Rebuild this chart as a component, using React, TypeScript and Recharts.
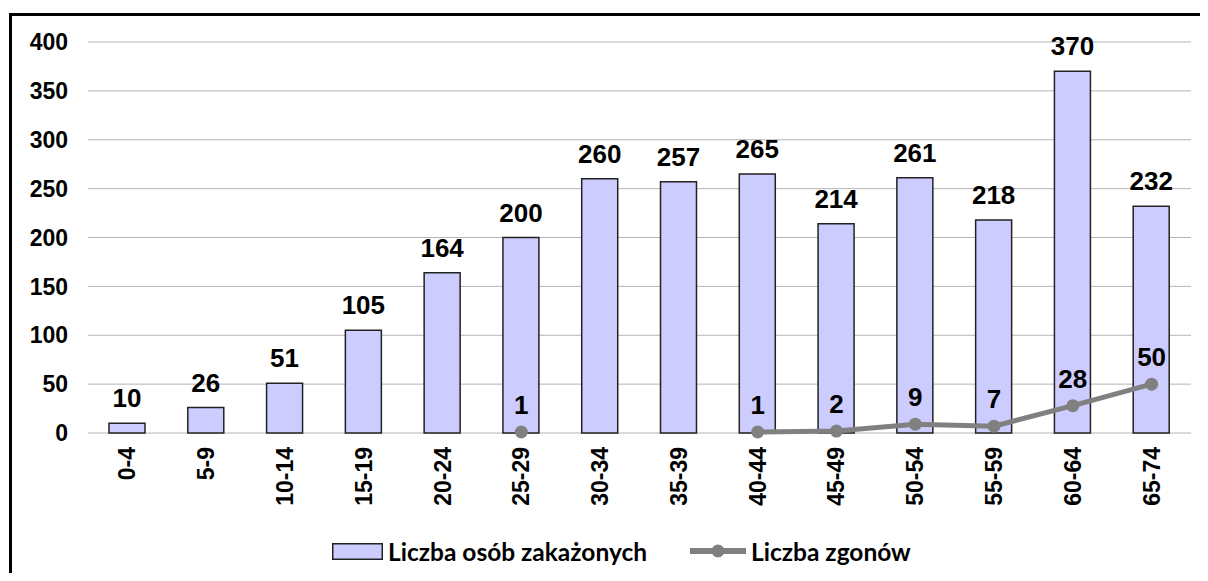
import React from 'react';
import {
  ComposedChart,
  Bar,
  Line,
  XAxis,
  YAxis,
  CartesianGrid,
  Legend,
  LabelList,
} from 'recharts';

const categories = ['0-4', '5-9', '10-14', '15-19', '20-24', '25-29', '30-34', '35-39', '40-44', '45-49', '50-54', '55-59', '60-64', '65-74'];
const infected = [10, 26, 51, 105, 164, 200, 260, 257, 265, 214, 261, 218, 370, 232];
const deaths: (number | null)[] = [null, null, null, null, null, 1, null, null, 1, 2, 9, 7, 28, 50];
const yTicks = [0, 50, 100, 150, 200, 250, 300, 350, 400];
const boundaryTicks = [0, 1, 2, 3, 4, 5, 6, 7, 8, 9, 10, 11, 12, 13, 14];

const data = categories.map((cat, i) => ({ cat, infected: infected[i], deaths: deaths[i] }));

const FONT = '"Liberation Sans", Arial, sans-serif';

const CatTick = (props: any) => {
  const { x, y, payload } = props;
  return (
    <text
      x={x}
      y={y}
      transform={`rotate(-90, ${x}, ${y})`}
      textAnchor="end"
      dominantBaseline="central"
      fontFamily={FONT}
      fontWeight={700}
      fontSize={23}
      fill="#000"
    >
      {payload.value}
    </text>
  );
};

const LineLabel = (props: any) => {
  const { x, y, value } = props;
  if (value === null || value === undefined || x == null || y == null) return null;
  return (
    <text x={x} y={y - 18} textAnchor="middle" fontFamily={FONT} fontWeight={700} fontSize={26} fill="#000">
      {value}
    </text>
  );
};

const LegendContent = () => (
  <div
    style={{
      display: 'flex',
      alignItems: 'center',
      height: 30,
      fontFamily: 'Lato, "Open Sans", sans-serif',
      fontWeight: 700,
      fontSize: 24.5,
      color: '#000',
      whiteSpace: 'nowrap',
    }}
  >
    <svg width={51} height={17} style={{ display: 'block' }}>
      <rect x={0.75} y={0.75} width={49.5} height={15.5} fill="#CCCCFF" stroke="#222" strokeWidth={1.5} />
    </svg>
    <span style={{ marginLeft: 5 }}>Liczba osób zakażonych</span>
    <svg width={56} height={14} style={{ display: 'block', marginLeft: 43 }}>
      <line x1={0} y1={7} x2={56} y2={7} stroke="#808080" strokeWidth={6} strokeLinecap="round" />
      <circle cx={28} cy={7} r={6.5} fill="#808080" />
    </svg>
    <span style={{ marginLeft: 5 }}>Liczba zgonów</span>
  </div>
);

export default function App() {
  return (
    <div style={{ position: 'relative', width: 1208, height: 581, margin: -8, background: '#fff' }}>
      <div
        style={{
          position: 'absolute',
          left: 9,
          top: 13,
          width: 1199,
          height: 568,
          borderTop: '3px solid #000',
          borderLeft: '3px solid #000',
          boxSizing: 'border-box',
        }}
      />
      <div style={{ position: 'absolute', left: 0, top: 0 }}>
        <ComposedChart
          width={1208}
          height={581}
          data={data}
          margin={{ top: 42, right: 17, bottom: 15, left: 0 }}
        >
          <CartesianGrid xAxisId="cat" vertical={false} stroke="#b4b4b4" strokeWidth={1} />
          <XAxis
            xAxisId="ticks"
            type="number"
            domain={[0, 14]}
            ticks={boundaryTicks}
            tick={false}
            tickSize={8}
            tickLine={{ stroke: '#444', strokeWidth: 1.5 }}
            axisLine={{ stroke: '#444', strokeWidth: 1.5 }}
            height={0}
            allowDataOverflow
          />
          <XAxis
            xAxisId="cat"
            dataKey="cat"
            interval={0}
            axisLine={false}
            tickLine={false}
            tickSize={0}
            tickMargin={14}
            tick={<CatTick />}
            height={103}
          />
          <YAxis
            domain={[0, 400]}
            ticks={yTicks}
            width={88}
            axisLine={false}
            tickLine={false}
            tickMargin={14}
            tick={{ fontFamily: FONT, fontWeight: 700, fontSize: 23, fill: '#000' }}
          />
          <Legend verticalAlign="bottom" content={<LegendContent />} wrapperStyle={{ left: 332, width: 700 }} />
          <Bar
            xAxisId="cat"
            dataKey="infected"
            barSize={36}
            fill="#CCCCFF"
            stroke="#222"
            strokeWidth={1.5}
            isAnimationActive={false}
          >
            <LabelList
              dataKey="infected"
              position="top"
              offset={16}
              style={{ fontFamily: FONT, fontWeight: 700, fontSize: 26, fill: '#000' }}
            />
          </Bar>
          <Line
            xAxisId="cat"
            dataKey="deaths"
            stroke="#808080"
            strokeWidth={5}
            dot={{ r: 6.5, fill: '#808080', stroke: '#808080', strokeWidth: 0 }}
            activeDot={false}
            connectNulls={false}
            isAnimationActive={false}
          >
            <LabelList dataKey="deaths" content={<LineLabel />} />
          </Line>
        </ComposedChart>
      </div>
    </div>
  );
}
